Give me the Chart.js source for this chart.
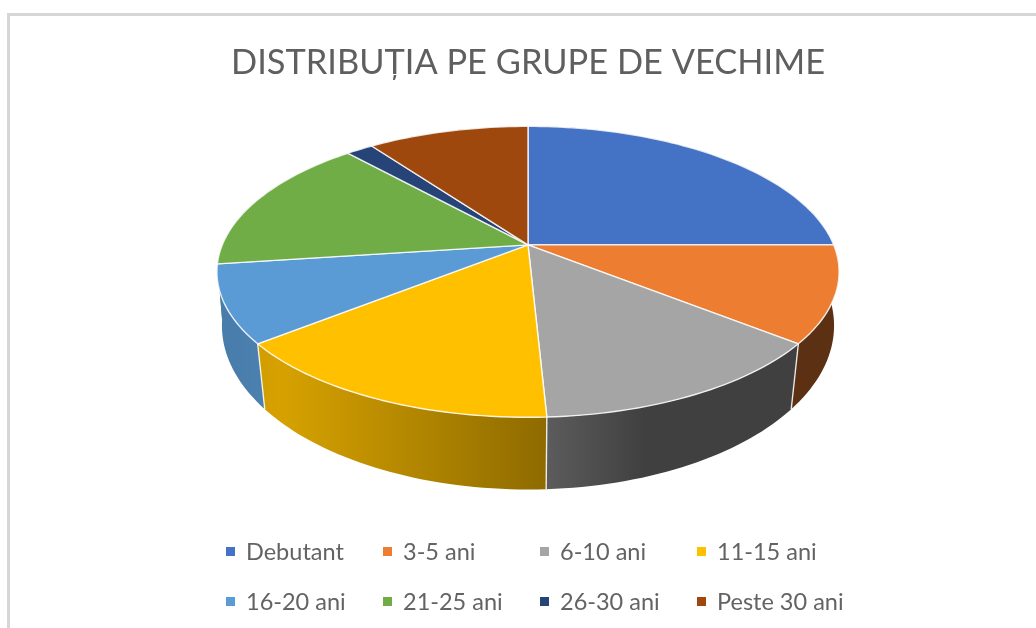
<!DOCTYPE html>
<html>
<head>
<meta charset="utf-8">
<title>Distribuția pe grupe de vechime</title>
<script src="https://cdn.jsdelivr.net/npm/chart.js@4"></script>
<style>
  html, body { margin: 0; padding: 0; background: #fff; }
  #wrap { position: relative; width: 1036px; height: 628px; overflow: hidden; }
  #frame { position: absolute; left: 7px; top: 13px; right: -4px; bottom: -4px; border: 3px solid #d6d6d6; border-width: 3px 0 0 3px; }
  canvas { position: absolute; left: 0; top: 0; }
  #legend { position: absolute; left: 226px; top: 526px; display: grid; grid-template-columns: repeat(4, 157px); grid-auto-rows: 50px;
    font-family: Lato, sans-serif; font-size: 23.5px; color: #636363; }
  #legend div { display: flex; align-items: center; white-space: nowrap; }
  #legend i { width: 9px; height: 9px; margin-right: 11px; flex: none; }
</style>
</head>
<body>
<div id="wrap">
  <div id="frame"></div>
  <canvas id="chart" width="1036" height="628"></canvas>
  <div id="legend"></div>
</div>
<script>
const categories = ["Debutant", "3-5 ani", "6-10 ani", "11-15 ani", "16-20 ani", "21-25 ani", "26-30 ani", "Peste 30 ani"];
const shares = [25, 10.7, 13.5, 15.1, 8.6, 15.4, 1.7, 10];
const sliceColors = ["#4472C4", "#ED7D31", "#A5A5A5", "#FFC000", "#5B9BD5", "#70AD47", "#264478", "#9E480E"];
const chartTitle = "DISTRIBUȚIA PE GRUPE DE VECHIME";

// perspective of the disc, all relative to the pie radius chart.js gives us
const persp = 0.185, sx = 1.98, sy = 0.91;
const lowPersp = 0.165, lowSx = 1.955, lowSy = 1.032, lowDrop = 0.348;
// brightness of the side wall from left to right
const wallLight = [[0, 0.8], [0.1, 0.84], [0.53, 0.56], [0.69, 0.39], [1, 0.39]];

function shade(hex, f) {
  const n = parseInt(hex.slice(1), 16);
  return `rgb(${(n >> 16) * f | 0},${((n >> 8) & 255) * f | 0},${(n & 255) * f | 0})`;
}

function rimPoint(el, angle, low) {
  const u = Math.cos(angle), v = Math.sin(angle), r = el.outerRadius;
  if (low) {
    const d = 1 - lowPersp * v;
    return [el.x + r * lowSx * u / d, el.y + r * lowDrop + r * lowSy * v / d];
  }
  const d = 1 - persp * v;
  return [el.x + r * sx * u / d, el.y + r * sy * v / d];
}

function rimAngles(el) {
  const steps = Math.max(2, Math.ceil((el.endAngle - el.startAngle) * 40));
  const out = [];
  for (let i = 0; i <= steps; i++) out.push(el.startAngle + (el.endAngle - el.startAngle) * i / steps);
  return out;
}

const disc3d = {
  id: "disc3d",
  beforeDatasetsDraw(chart) {
    const ctx = chart.ctx;
    const arcs = chart.getDatasetMeta(0).data;
    const first = arcs[0];
    const left = first.x - first.outerRadius * sx, width = first.outerRadius * sx * 2;
    ctx.save();
    ctx.lineJoin = "round";

    // walls, back ones first
    const order = arcs.slice().sort((a, b) =>
      Math.sin((a.startAngle + a.endAngle) / 2) - Math.sin((b.startAngle + b.endAngle) / 2));
    order.forEach((el) => {
      const angles = rimAngles(el);
      const grad = ctx.createLinearGradient(left, 0, left + width, 0);
      wallLight.forEach(([t, f]) => grad.addColorStop(t, shade(el.options.backgroundColor, f)));
      ctx.beginPath();
      angles.forEach((a) => ctx.lineTo(...rimPoint(el, a, false)));
      angles.slice().reverse().forEach((a) => ctx.lineTo(...rimPoint(el, a, true)));
      ctx.closePath();
      ctx.fillStyle = grad;
      ctx.fill();
    });

    // edges between the walls
    ctx.strokeStyle = "rgba(255,255,255,0.85)";
    ctx.lineWidth = 1.4;
    arcs.forEach((el) => {
      if (Math.sin(el.endAngle) > 0.3) {
        ctx.beginPath();
        ctx.moveTo(...rimPoint(el, el.endAngle, false));
        ctx.lineTo(...rimPoint(el, el.endAngle, true));
        ctx.stroke();
      }
    });

    // top face
    arcs.forEach((el) => {
      ctx.beginPath();
      ctx.moveTo(el.x, el.y);
      rimAngles(el).forEach((a) => ctx.lineTo(...rimPoint(el, a, false)));
      ctx.closePath();
      ctx.fillStyle = el.options.backgroundColor;
      ctx.fill();
      ctx.strokeStyle = el.options.borderColor;
      ctx.lineWidth = el.options.borderWidth;
      ctx.stroke();
    });
    ctx.restore();
    return false;
  }
};

const chart = new Chart(document.getElementById("chart"), {
  type: "pie",
  data: {
    labels: categories,
    datasets: [{
      data: shares,
      backgroundColor: sliceColors,
      borderColor: "rgba(255,255,255,0.85)",
      borderWidth: 1.4
    }]
  },
  options: {
    responsive: false,
    animation: false,
    layout: { padding: { left: 20, right: 0, top: 0, bottom: 228 } },
    plugins: {
      legend: { display: false },
      tooltip: { enabled: false },
      title: {
        display: true,
        text: chartTitle,
        color: "#5f5f5f",
        font: { family: "Lato", size: 34.4, weight: "normal" },
        padding: { top: 42, bottom: 6.5 }
      }
    }
  },
  plugins: [disc3d]
});

// legend in four fixed columns, chart.js' own legend can't line them up
const legendBox = document.getElementById("legend");
chart.options.plugins.legend.labels.generateLabels(chart).forEach((item) => {
  const row = document.createElement("div");
  const mark = document.createElement("i");
  mark.style.background = item.fillStyle;
  row.appendChild(mark);
  row.appendChild(document.createTextNode(item.text));
  legendBox.appendChild(row);
});
</script>
</body>
</html>
